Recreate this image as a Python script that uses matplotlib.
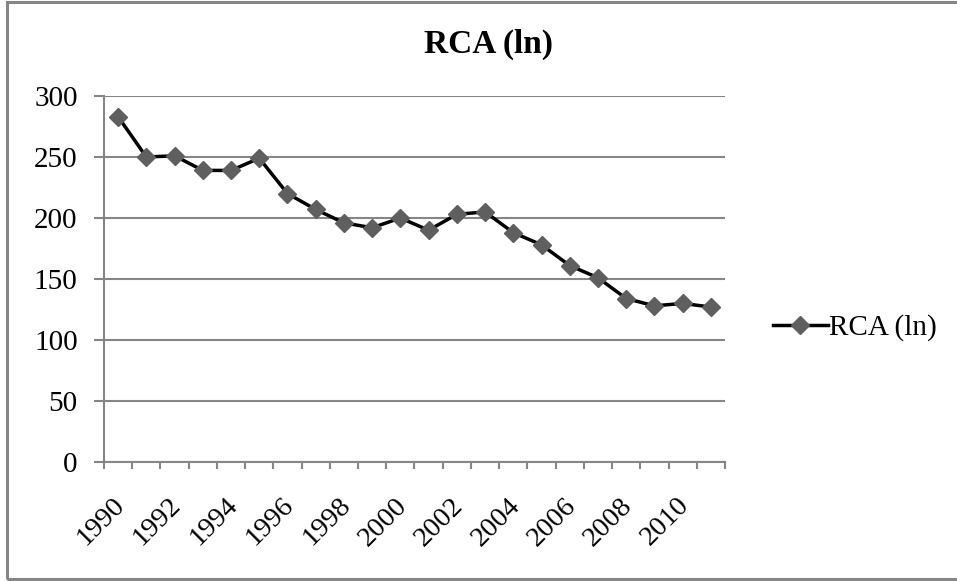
import matplotlib
matplotlib.use("Agg")
import matplotlib.pyplot as plt
import matplotlib.transforms as mtransforms
from matplotlib.patches import Rectangle
from matplotlib.lines import Line2D

# RCA index by year
years = list(range(1990, 2012))
rca_ln = [283, 250, 251, 239, 239, 249, 220, 207, 196, 192,
          200, 190, 203, 205, 188, 178, 161, 151, 134, 128, 130, 127]
label_years = [1990, 1992, 1994, 1996, 1998, 2000, 2002, 2004, 2006, 2008, 2010]
y_ticks = [0, 50, 100, 150, 200, 250, 300]

plt.rcParams['font.family'] = ['Liberation Serif', 'DejaVu Serif']

W, H = 957, 581
fig = plt.figure(figsize=(W / 100, H / 100), dpi=100)
fig.patch.set_facecolor('white')

# outer chart border
fig.patches.append(Rectangle((7 / W, 2 / H), (W + 10) / W, (H - 4) / H,
                             transform=fig.transFigure, fill=False,
                             edgecolor='#868686', linewidth=2.2, zorder=0))

left, right, top, bottom = 104, 725, 96, 462
ax = fig.add_axes([left / W, 1 - bottom / H, (right - left) / W, (bottom - top) / H])

grid_c = '#868686'
ax.set_ylim(0, 300)
ax.set_xlim(years[0] - 0.5, years[-1] + 0.5)
ax.set_yticks(y_ticks)
ax.yaxis.grid(True, color=grid_c, linewidth=1.5)
ax.set_axisbelow(True)

for s in ['top', 'right']:
    ax.spines[s].set_visible(False)
for s in ['left', 'bottom']:
    ax.spines[s].set_color(grid_c)
    ax.spines[s].set_linewidth(1.5)

# tick marks sit on category boundaries; labels on every other category centre
bounds = [y - 0.5 for y in years] + [years[-1] + 0.5]
ax.set_xticks(bounds)
ax.set_xticklabels([])
ax.tick_params(axis='x', which='major', length=5, width=1.5, color=grid_c, direction='out')
ax.set_xticks(label_years, minor=True)
ax.set_xticklabels([str(y) for y in label_years], minor=True,
                   rotation=45, ha='right', va='top', rotation_mode='anchor', fontsize=20.5)
ax.tick_params(axis='x', which='minor', length=0, pad=20)
shift = mtransforms.ScaledTranslation(-6 / 100, -3 / 100, fig.dpi_scale_trans)
for lab in ax.get_xticklabels(minor=True):
    lab.set_transform(lab.get_transform() + shift)
ax.tick_params(axis='y', length=7, width=1.5, color=grid_c, labelsize=21, pad=12)

marker_c = '#5f5f5f'
ax.plot(years, rca_ln, color='black', linewidth=2.5, marker='D', markersize=9,
        markerfacecolor=marker_c, markeredgecolor=marker_c, clip_on=False, zorder=3)

fig.text(489 / W, 1 - 44 / H, 'RCA (ln)', ha='center', va='center',
         fontsize=24, fontweight='bold')

handle = Line2D([], [], color='black', linewidth=2.5, marker='D', markersize=9,
                markerfacecolor=marker_c, markeredgecolor=marker_c)
fig.legend([handle], ['RCA (ln)'], loc='center left',
           bbox_to_anchor=(758 / W, 1 - 328 / H), frameon=False,
           fontsize=21, handlelength=1.9, handletextpad=0.05, borderpad=0)

fig.savefig('out.png', dpi=100)
